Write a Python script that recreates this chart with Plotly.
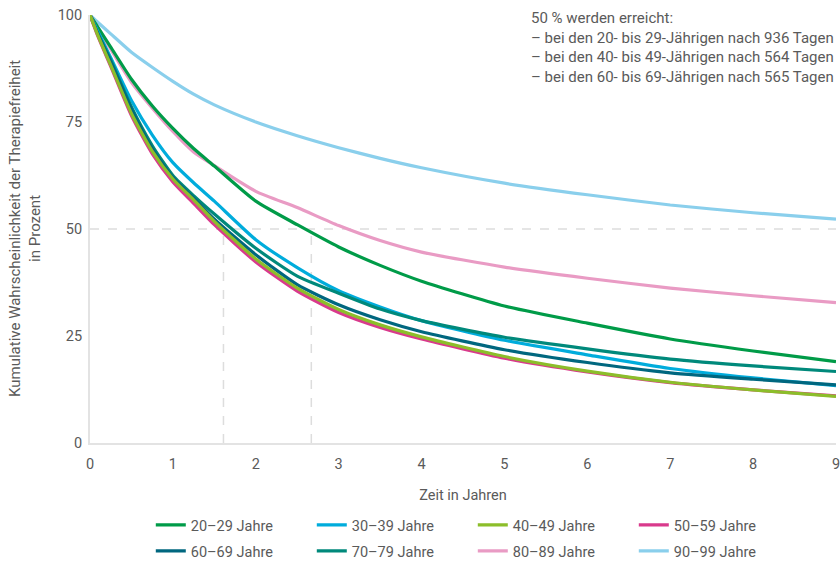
import plotly.graph_objects as go

years = [0, 0.1, 0.25, 0.5, 0.75, 1, 1.25, 1.5, 2, 2.5, 3, 3.5, 4, 5, 6, 7, 8, 9]

s20 = [100, 97.0, 92.5, 85.0, 78.8, 73.5, 68.8, 64.7, 56.5, 51.0, 45.8, 41.5, 37.8, 32.0, 28.0, 24.3, 21.5, 19.0]
s30 = [100, 96.0, 90.0, 80.0, 72.0, 65.5, 60.8, 56.5, 47.5, 41.0, 35.6, 31.8, 28.6, 24.0, 20.6, 17.4, 15.2, 13.4]
s40 = [100, 95.0, 88.3, 77.0, 68.2, 61.7, 56.8, 51.8, 43.0, 36.2, 31.2, 27.6, 24.8, 20.2, 16.8, 14.2, 12.4, 10.9]
s50 = [100, 94.8, 88.0, 76.5, 67.6, 61.0, 56.0, 51.0, 42.3, 35.5, 30.5, 27.0, 24.3, 19.8, 16.6, 14.1, 12.4, 11.0]
s60 = [100, 95.3, 89.0, 78.0, 68.8, 62.0, 57.2, 52.3, 44.0, 37.0, 32.3, 28.8, 26.0, 21.8, 18.8, 16.4, 14.9, 13.6]
s70 = [100, 95.5, 89.5, 78.5, 69.5, 62.5, 57.8, 53.5, 45.5, 39.0, 35.0, 31.3, 28.6, 24.7, 22.0, 19.6, 18.0, 16.7]
s80 = [100, 96.8, 92.0, 84.3, 78.3, 72.8, 68.0, 64.8, 58.8, 55.0, 50.8, 47.3, 44.6, 41.1, 38.5, 36.2, 34.4, 32.8]
s90 = [100, 98.2, 95.6, 91.3, 87.8, 84.5, 81.5, 79.0, 75.0, 71.8, 69.0, 66.5, 64.3, 60.7, 58.0, 55.6, 53.8, 52.3]

labels = ["20–29 Jahre", "30–39 Jahre", "40–49 Jahre", "50–59 Jahre",
          "60–69 Jahre", "70–79 Jahre", "80–89 Jahre", "90–99 Jahre"]
colors = ["#009B48", "#00ACDC", "#8CBE2A", "#D93A8C",
          "#00677F", "#00897B", "#E99BC4", "#8ACFEC"]
series = [s20, s30, s40, s50, s60, s70, s80, s90]

threshold = 50
cross_years = [1.61, 2.67]

x_ticks = [0, 1, 2, 3, 4, 5, 6, 7, 8, 9]
y_ticks = [0, 25, 50, 75, 100]

font_family = "Roboto, 'Open Sans', sans-serif"
gray = "#5a5a5a"

fig = go.Figure()

draw_order = [7, 6, 0, 1, 5, 4, 3, 2]
for i in draw_order:
    fig.add_trace(go.Scatter(
        x=years, y=series[i], mode="lines", name=labels[i],
        line=dict(color=colors[i], width=3.2, shape="spline", smoothing=0.6),
        legend="legend" if i < 4 else "legend2",
        legendrank=i + 1,
    ))

# reference dashed lines
fig.add_shape(type="line", xref="x", yref="y", x0=years[0], x1=years[-1],
              y0=threshold, y1=threshold,
              line=dict(color="#dddddd", width=1.5, dash="dash"), layer="below")
for cx in cross_years:
    fig.add_shape(type="line", xref="x", yref="y", x0=cx, x1=cx,
                  y0=0, y1=threshold,
                  line=dict(color="#dddddd", width=1.5, dash="dash"), layer="below")

fig.add_annotation(
    xref="paper", yref="paper", x=1.0, y=1.018, xanchor="right", yanchor="top",
    align="left", showarrow=False,
    text=("50 % werden erreicht:<br>"
          "– bei den 20- bis 29-Jährigen nach 936 Tagen<br>"
          "– bei den 40- bis 49-Jährigen nach 564 Tagen<br>"
          "– bei den 60- bis 69-Jährigen nach 565 Tagen"),
    font=dict(family=font_family, size=15, color=gray),
)

# y-axis title as rotated text
fig.add_annotation(
    xref="paper", yref="paper", x=0.0, y=0.5, xshift=-65, xanchor="center", yanchor="middle",
    textangle=-90, showarrow=False, align="center",
    text="Kumulative Wahrscheinlichkeit der Therapiefreiheit<br>in Prozent",
    font=dict(family=font_family, size=15, color=gray),
)

leg_common = dict(orientation="h", xanchor="left", yanchor="middle",
                  entrywidth=116, entrywidthmode="pixels",
                  font=dict(size=14.5, color=gray), bgcolor="rgba(0,0,0,0)")

fig.update_layout(
    width=840, height=561,
    margin=dict(l=90, r=4, t=15, b=118, autoexpand=False),
    paper_bgcolor="white", plot_bgcolor="white",
    font=dict(family=font_family, size=14.5, color=gray),
    showlegend=True,
    legend=dict(x=0.0815, y=-0.1916, **leg_common),
    legend2=dict(x=0.0815, y=-0.2523, **leg_common),
    xaxis=dict(range=[0, 9], tickvals=x_ticks, showgrid=False, zeroline=False,
               showline=True, linecolor="#e3e3e3", linewidth=2,
               ticks="", ticklabelstandoff=7, automargin=False,
               ticklabeloverflow="allow",
               title=dict(text="Zeit in Jahren", standoff=17,
                          font=dict(size=14.5, color=gray))),
    yaxis=dict(range=[0, 100], tickvals=y_ticks, showgrid=False, zeroline=False,
               showline=True, linecolor="#e3e3e3", linewidth=2,
               ticks="", ticklabelstandoff=3, automargin=False),
)

fig.write_html("out.html", config={"displayModeBar": False},
               post_script="document.body.style.margin='0';")
